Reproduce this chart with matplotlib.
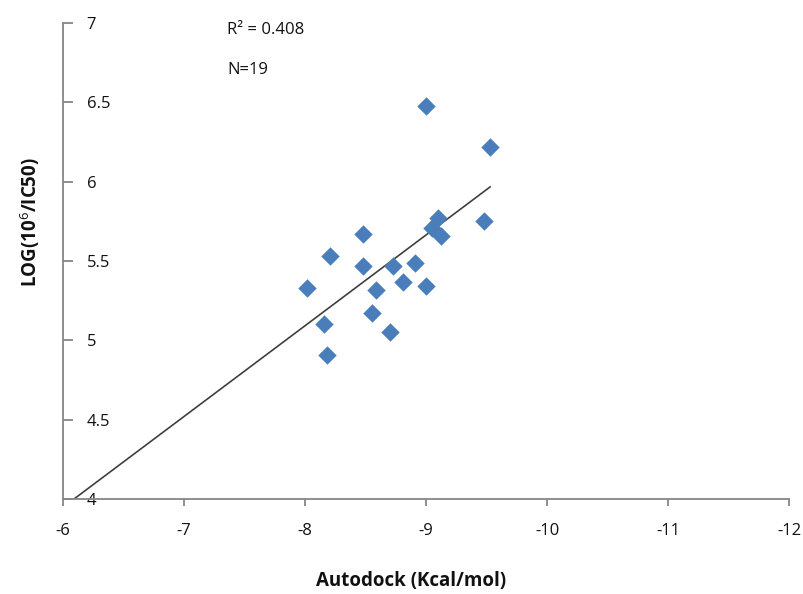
import numpy as np
import matplotlib
matplotlib.use("Agg")
import matplotlib.pyplot as plt

# ======================
# DATA
# ======================
autodock = [-9.00, -9.53, -9.48, -9.10, -9.05, -9.12, -8.48, -8.21, -8.48, -8.73,
            -8.91, -8.02, -8.59, -8.81, -9.00, -8.55, -8.16, -8.70, -8.18]
log_ic50 = [6.48, 6.22, 5.75, 5.77, 5.71, 5.66, 5.67, 5.53, 5.47, 5.47,
            5.49, 5.33, 5.32, 5.37, 5.34, 5.17, 5.10, 5.05, 4.91]

x_ticks = [-6, -7, -8, -9, -10, -11, -12]
y_ticks = [4, 4.5, 5, 5.5, 6, 6.5, 7]
y_tick_labels = ["4", "4.5", "5", "5.5", "6", "6.5", "7"]

r2_text = "R² = 0.408"
n_text = "N=19"

# ======================
# STYLE
# ======================
plt.rcParams["font.family"] = ["Open Sans", "DejaVu Sans"]
plt.rcParams["mathtext.fontset"] = "custom"
plt.rcParams["mathtext.rm"] = "Open Sans"
plt.rcParams["mathtext.bf"] = "Open Sans:bold"

SPINE = "#868686"
MARKER = "#4a7ebb"
LINE = "#404040"
TEXT = "#111111"

W, H = 804, 594
fig = plt.figure(figsize=(W / 100, H / 100), dpi=100)
ax = fig.add_axes([63 / W, 1 - 499 / H, (789 - 63) / W, (499 - 23) / H])

ax.scatter(autodock, log_ic50, marker="D", s=88, color=MARKER, zorder=3,
           linewidths=0)

# linear trendline (extended back to -6, clipped by the axes)
slope, icpt = np.polyfit(autodock, log_ic50, 1)
xs = np.array([-6.0, max(autodock, key=abs)])
ax.plot(xs, slope * xs + icpt, color=LINE, lw=1.2, zorder=2)

ax.set_xlim(-6, -12)
ax.set_ylim(4, 7)
ax.set_xticks(x_ticks)
ax.set_xticklabels([str(v) for v in x_ticks])
ax.set_yticks(y_ticks)
ax.set_yticklabels(y_tick_labels)

for s in ("top", "right"):
    ax.spines[s].set_visible(False)
for s in ("left", "bottom"):
    ax.spines[s].set_color(SPINE)
    ax.spines[s].set_linewidth(1.3)

ax.tick_params(axis="x", direction="out", length=5, width=1.3, color=SPINE,
               labelsize=12, labelcolor=TEXT, pad=12)
ax.tick_params(axis="y", direction="in", length=7, width=1.3, color=SPINE,
               labelsize=12, labelcolor=TEXT, pad=-17)
for lbl in ax.get_yticklabels():
    lbl.set_horizontalalignment("left")

# axis titles placed where they sit in the original
fig.text(411 / W, 1 - 581 / H, "Autodock (Kcal/mol)", fontsize=13.5,
         fontweight="bold", color=TEXT, ha="center", va="center")
fig.text(30 / W, 1 - 222 / H, "LOG(10$^{6}$/IC50)", fontsize=13.5,
         fontweight="bold", color=TEXT, ha="center", va="center",
         rotation=90)

fig.text(227 / W, 1 - 30 / H, r2_text, fontsize=12, color=TEXT,
         va="center")
fig.text(227 / W, 1 - 70 / H, n_text, fontsize=12, color=TEXT,
         va="center")

fig.savefig("out.png", dpi=100)
